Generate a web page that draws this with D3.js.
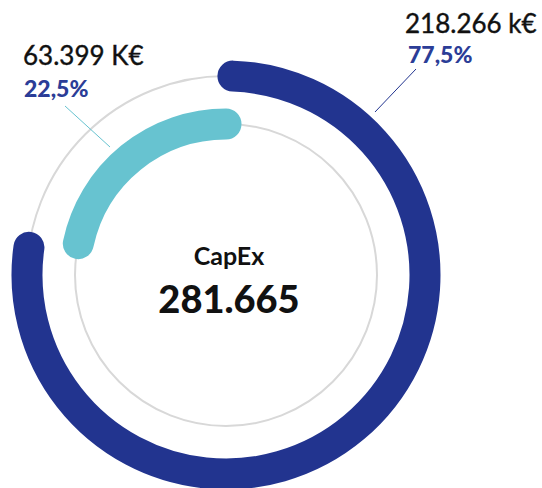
<!DOCTYPE html>
<html>
<head>
<meta charset="utf-8">
<script src="https://cdn.jsdelivr.net/npm/d3@7"></script>
<style>
  body { margin: 0; background: #fff; }
  text { font-family: Lato, "Open Sans", sans-serif; }
</style>
</head>
<body>
<svg id="chart" width="542" height="488"></svg>
<script>
// values
var segNames  = ["outer", "inner"];
var segValues = ["218.266 k€", "63.399 K€"];
var segShares = [77.5, 22.5];
var segColors = ["#22348f", "#67c3d0"];
var totalLabel = "CapEx";
var totalValue = "281.665";

var svg = d3.select("svg#chart");
var cx = 226, cy = 275;
var radii = [199, 151];      // ring centre-lines
var ringWidth = 31;

// share -> degrees; outer runs clockwise from top, inner ends at top
var deg = d3.scaleLinear().domain([0, 100]).range([0, 360]);
var spans = [
  [2, 2 + deg(segShares[0]) - 3],
  [360 - deg(segShares[1]) + 3, 360]
];

function arcPath(r, a0, a1) {
  var p = d3.path();
  var rad = Math.PI / 180;
  p.arc(cx, cy, r, (a0 - 90) * rad, (a1 - 90) * rad);
  return p.toString();
}

var g = svg.append("g");

// grey tracks
g.selectAll("circle.track")
  .data(radii)
  .enter()
  .append("circle")
  .attr("class", "track")
  .attr("cx", cx)
  .attr("cy", cy)
  .attr("r", d => d)
  .style("fill", "none")
  .style("stroke", "#d8d8d8")
  .style("stroke-width", 2);

// the two rings
g.selectAll("path.seg")
  .data(segNames)
  .enter()
  .append("path")
  .attr("class", "seg")
  .attr("d", (d, i) => arcPath(radii[i], spans[i][0], spans[i][1]))
  .style("fill", "none")
  .style("stroke", (d, i) => segColors[i])
  .style("stroke-width", ringWidth)
  .style("stroke-linecap", "round");

// leader lines + labels
var labelPos = [
  {x: 405, y: 33, ly: 63, line: [[416, 69], [375, 112]], pct: "#2b3d97"},
  {x: 23,  y: 65, ly: 97, line: [[65, 106], [110, 147]], pct: "#2b3d97"}
];

labelPos.forEach(function(lp, i) {
  svg.append("line")
    .attr("x1", lp.line[0][0]).attr("y1", lp.line[0][1])
    .attr("x2", lp.line[1][0]).attr("y2", lp.line[1][1])
    .style("stroke", segColors[i])
    .style("stroke-width", 1);

  svg.append("text")
    .attr("x", lp.x)
    .attr("y", lp.y)
    .style("font-size", "26px")
    .style("fill", "#111")
    .style("stroke", "#111")
    .style("stroke-width", 0.4)
    .text(segValues[i]);

  svg.append("text")
    .attr("x", lp.x + (i == 0 ? 3 : 1))
    .attr("y", lp.ly)
    .style("font-size", "23px")
    .style("font-weight", "900")
    .style("fill", lp.pct)
    .text(String(segShares[i]).replace(".", ",") + "%");
});

// centre
svg.append("text")
  .attr("x", 229).attr("y", 265)
  .style("text-anchor", "middle")
  .style("font-size", "25px")
  .style("font-weight", "bold")
  .style("fill", "#111")
  .text(totalLabel);

svg.append("text")
  .attr("x", 229).attr("y", 313)
  .style("text-anchor", "middle")
  .style("font-size", "38px")
  .style("font-weight", "900")
  .style("fill", "#111")
  .text(totalValue);
</script>
</body>
</html>
